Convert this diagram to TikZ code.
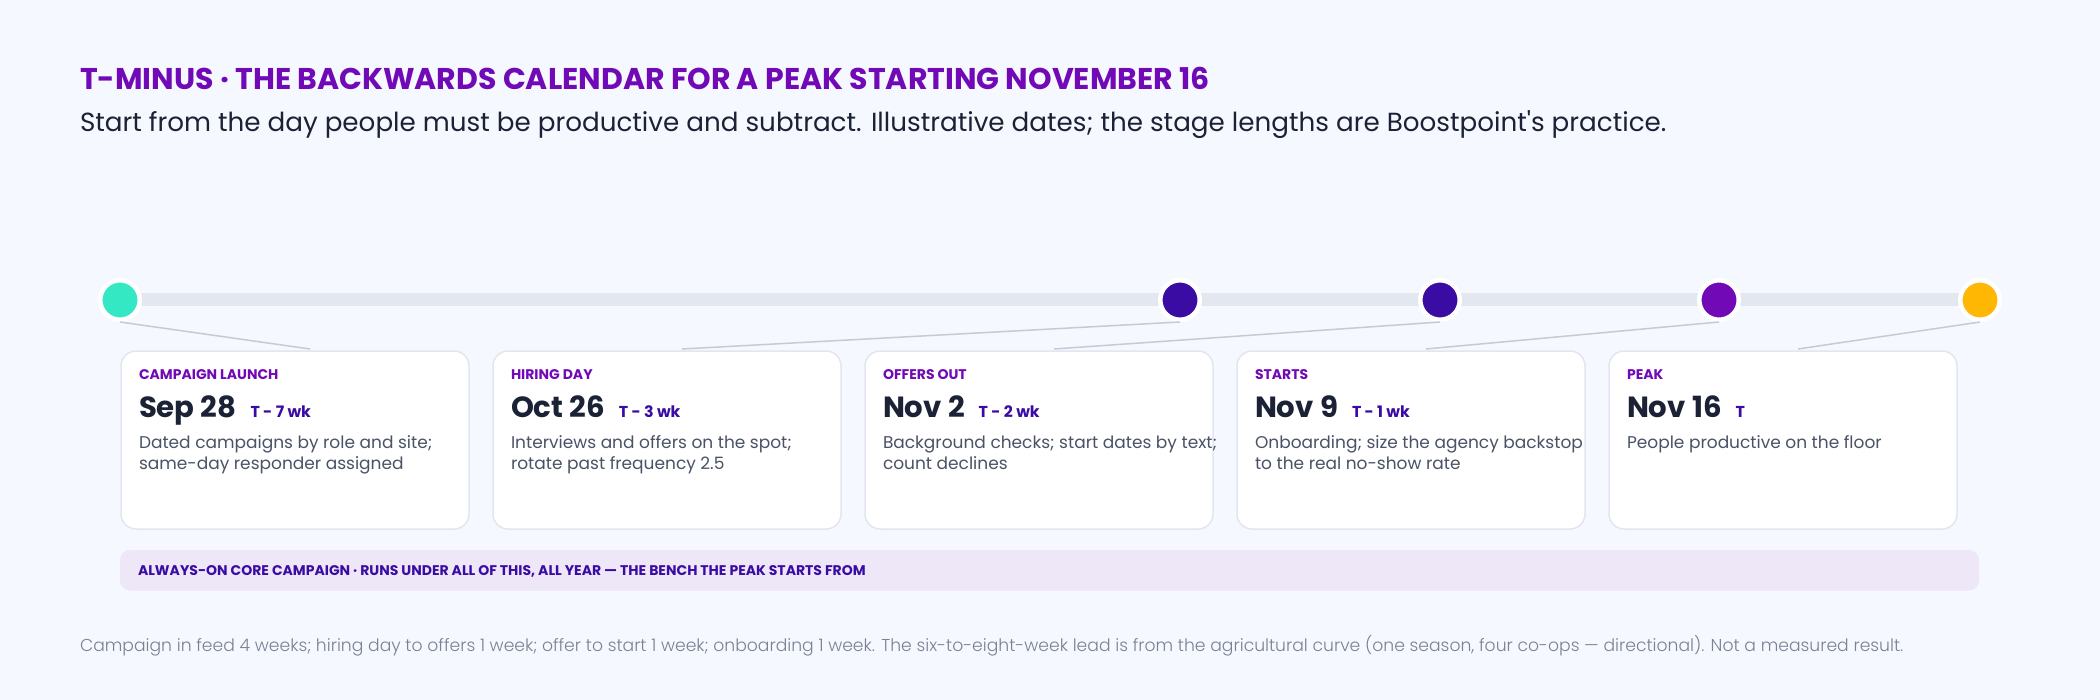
\documentclass[tikz,border=0pt]{standalone}
\usepackage{fontspec}
\setmainfont{Poppins}
\newfontfamily\poplight{Poppins Light}
\newfontfamily\popraw{Poppins}
\definecolor{bgc}{HTML}{F5F8FE}
\definecolor{ttl}{HTML}{7209B7}
\definecolor{ink}{HTML}{1B2236}
\definecolor{indigo}{HTML}{3A0CA3}
\definecolor{teal}{HTML}{34E8C3}
\definecolor{amber}{HTML}{FFB703}
\definecolor{trackc}{HTML}{E3E7F0}
\definecolor{connc}{HTML}{C5CAD6}
\definecolor{cardb}{HTML}{E2E6F0}
\definecolor{descc}{HTML}{4A5266}
\definecolor{bandc}{HTML}{EDE7F8}
\definecolor{footc}{HTML}{7A8194}
\newcommand\stagecard[7]{%
  \node[card] (card#1) at (#2,351) {};
  \node[lbl] (lbl#1) at (#2+18,379) {#3};
  \node[datet] (date#1) at (#2+18,417) {#4};
  \node[tagt] (tag#1) at ([xshift=14pt]date#1.base east) {#5};
  \node[desct] (da#1) at (#2+18,448) {#6};
  \node[desct] (db#1) at (#2+18,469.5) {#7};
  \draw[conn] (m#1.south) -- ([xshift=15pt,yshift=2pt]card#1.north);
}
\begin{document}
\begin{tikzpicture}[x=1pt,y=-1pt,
  every node/.style={inner sep=0pt, outer sep=0pt},
  txt/.style={anchor=base west},
  titlet/.style={txt, font=\fontsize{30}{36}\selectfont\bfseries, text=ttl},
  subt/.style={txt, font=\fontsize{26.2}{30}\selectfont\popraw, text=ink},
  lbl/.style={txt, font=\fontsize{14}{16}\selectfont\bfseries, text=ttl},
  datet/.style={txt, font=\fontsize{29.2}{32}\selectfont\bfseries, text=ink},
  tagt/.style={txt, font=\fontsize{15.8}{20}\selectfont\bfseries, text=indigo},
  desct/.style={txt, font=\fontsize{17}{21}\selectfont, text=descc},
  bandt/.style={txt, font=\fontsize{14}{16}\selectfont\bfseries, text=indigo},
  foott/.style={txt, font=\fontsize{17.2}{22}\selectfont\poplight, text=footc},
  card/.style={anchor=north west, draw=cardb, line width=1.5pt, fill=white,
    rounded corners=15pt, minimum width=348pt, minimum height=178pt},
  dot/.style={circle, draw=white, line width=4.5pt, minimum size=39.5pt, outer sep=2.25pt},
  track/.style={draw=trackc, line width=13pt},
  conn/.style={draw=connc, line width=1.5pt},
  band/.style={anchor=north west, fill=bandc, rounded corners=10pt,
    minimum width=1859pt, minimum height=40.5pt}
]
\fill[bgc] (0,0) rectangle (2100,700);
\useasboundingbox (0,0) rectangle (2100,700);

\node[titlet] (title) at (80,89.5) {T-MINUS · THE BACKWARDS CALENDAR FOR A PEAK STARTING NOVEMBER 16};
\node[subt] (sub) at (80,131.5) {Start from the day people must be productive and subtract. Illustrative dates; the stage lengths are Boostpoint's practice.};

\coordinate (t1) at (120,300);
\coordinate (t5) at (1980,300);
\draw[track] (t1) -- (t5);

\node[dot, fill=teal] (m1) at (t1) {};
\node[dot, fill=indigo] (m2) at (1180,300) {};
\node[dot, fill=indigo] (m3) at (1440,300) {};
\node[dot, fill=ttl] (m4) at (1719,300) {};
\node[dot, fill=amber] (m5) at (t5) {};

\stagecard{1}{121}{CAMPAIGN LAUNCH}{Sep 28}{T - 7 wk}{Dated campaigns by role and site;}{same-day responder assigned}
\stagecard{2}{493}{HIRING DAY}{Oct 26}{T - 3 wk}{Interviews and offers on the spot;}{rotate past frequency 2.5}
\stagecard{3}{865}{OFFERS OUT}{Nov 2}{T - 2 wk}{Background checks; start dates by text;}{count declines}
\stagecard{4}{1237}{STARTS}{Nov 9}{T - 1 wk}{Onboarding; size the agency backstop}{to the real no-show rate}
\stagecard{5}{1609}{PEAK}{Nov 16}{T}{People productive on the floor}{}

\node[band] (band) at (120,550) {};
\node[bandt] (bandtext) at (138,575) {ALWAYS-ON CORE CAMPAIGN · RUNS UNDER ALL OF THIS, ALL YEAR — THE BENCH THE PEAK STARTS FROM};

\node[foott] (foot) at (80,651) {Campaign in feed 4 weeks; hiring day to offers 1 week; offer to start 1 week; onboarding 1 week. The six-to-eight-week lead is from the agricultural curve (one season, four co-ops — directional). Not a measured result.};
\end{tikzpicture}
\end{document}
